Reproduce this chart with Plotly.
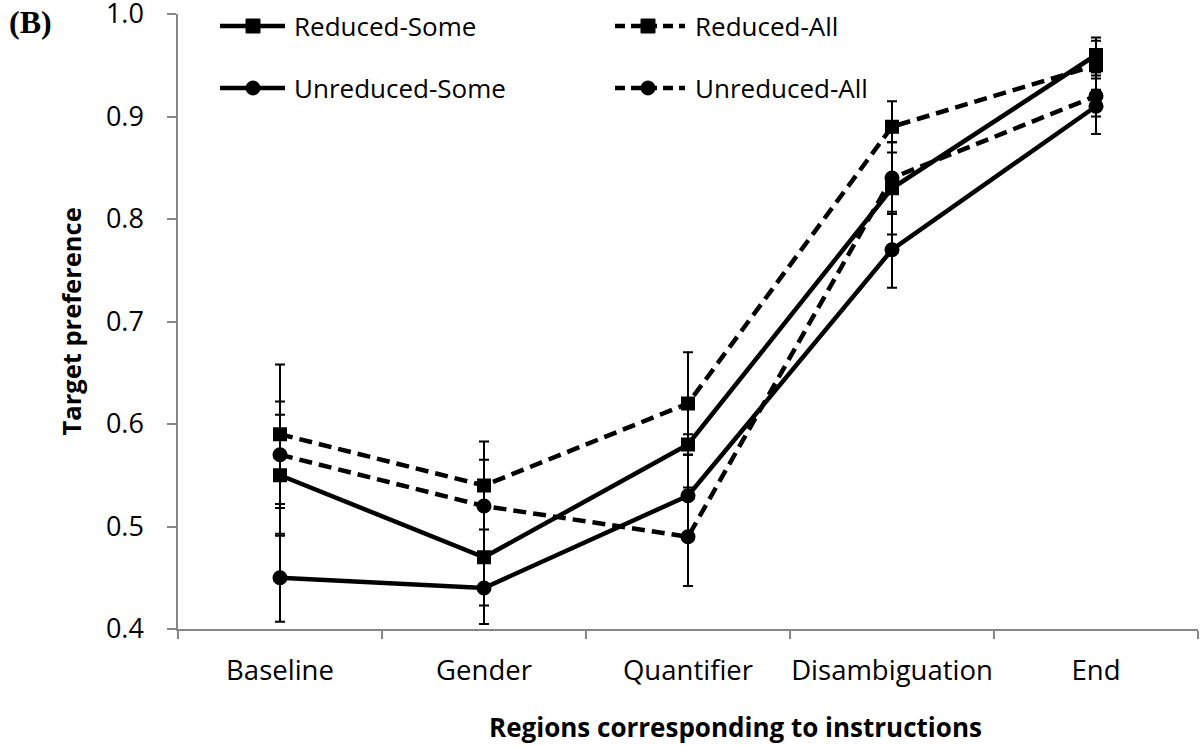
import plotly.graph_objects as go

categories = ["Baseline", "Gender", "Quantifier", "Disambiguation", "End"]

reduced_some = [0.55, 0.47, 0.58, 0.83, 0.96]
reduced_some_err = [0.059, 0.047, 0.010, 0.045, 0.017]
reduced_all = [0.59, 0.54, 0.62, 0.89, 0.95]
reduced_all_err = [0.068, 0.043, 0.050, 0.025, 0.024]
unreduced_some = [0.45, 0.44, 0.53, 0.77, 0.91]
unreduced_some_err = [0.043, 0.035, 0.040, 0.037, 0.027]
unreduced_all = [0.57, 0.52, 0.49, 0.84, 0.92]
unreduced_all_err = [0.052, 0.045, 0.048, 0.035, 0.020]

y_ticks = [0.4, 0.5, 0.6, 0.7, 0.8, 0.9, 1.0]
y_tick_labels = ["0.4", "0.5", "0.6", "0.7", "0.8", "0.9", "1.0"]

series = [
    ("Reduced-Some", reduced_some, reduced_some_err, "square", "solid"),
    ("Reduced-All", reduced_all, reduced_all_err, "square", "13px,7px"),
    ("Unreduced-Some", unreduced_some, unreduced_some_err, "circle", "solid"),
    ("Unreduced-All", unreduced_all, unreduced_all_err, "circle", "13px,7px"),
]

FONT = "Open Sans"
W, H = 1202, 746
PLOT_L, PLOT_R, PLOT_T, PLOT_B = 178, 1198, 14, 629
L, T, R, B = PLOT_L, PLOT_T, W - PLOT_R, H - PLOT_B
PW, PH = PLOT_R - PLOT_L, PLOT_B - PLOT_T

fig = go.Figure()
for name, vals, errs, sym, dash in series:
    fig.add_trace(go.Scatter(
        x=categories, y=vals, name=name, mode="lines+markers",
        line=dict(color="black", width=4.5, dash=dash),
        marker=dict(symbol=sym, size=14 if sym == "square" else 15, color="black"),
        error_y=dict(type="data", array=errs, visible=True, color="black",
                     thickness=2, width=5),
        showlegend=False,
    ))


def px(xp):
    return (xp - PLOT_L) / PW


def py(yp):
    return (PLOT_B - yp) / PH


shapes = []
annotations = []
legend_items = [
    ("Reduced-Some", "square", "solid", 220, 285, 253, 292, 26),
    ("Reduced-All", "square", "dash", 615, 685, 648, 693, 26),
    ("Unreduced-Some", "circle", "solid", 220, 285, 253, 292, 88),
    ("Unreduced-All", "circle", "dash", 615, 685, 648, 693, 88),
]
for name, sym, dash, x0, x1, xm, xt, yl in legend_items:
    shapes.append(dict(type="line", xref="paper", yref="paper",
                       x0=px(x0), x1=px(x1), y0=py(yl), y1=py(yl),
                       line=dict(color="black", width=4.5,
                                 dash="solid" if dash == "solid" else "10px,6px")))
    shapes.append(dict(type="rect" if sym == "square" else "circle",
                       xref="paper", yref="paper",
                       xsizemode="pixel", ysizemode="pixel",
                       xanchor=px(xm), yanchor=py(yl),
                       x0=-7, x1=7, y0=-7, y1=7,
                       fillcolor="black", line=dict(color="black", width=1)))
    annotations.append(dict(text=name, xref="paper", yref="paper",
                            x=px(xt), y=py(yl), xanchor="left", yanchor="middle",
                            showarrow=False, font=dict(family=FONT, size=26, color="black")))

annotations.append(dict(text="<b>Target preference</b>", xref="paper", yref="paper",
                        x=px(70), y=0.5, xanchor="center", yanchor="middle", textangle=-90,
                        showarrow=False, font=dict(family=FONT, size=25.5, color="black")))
annotations.append(dict(text="<b>Regions corresponding to instructions</b>", xref="paper",
                        yref="paper", x=px(487), y=py(727), xanchor="left", yanchor="middle",
                        showarrow=False, font=dict(family=FONT, size=26, color="black")))
annotations.append(dict(text="<b>(B)</b>", xref="paper", yref="paper",
                        x=px(30), y=py(22), xanchor="center", yanchor="middle",
                        showarrow=False,
                        font=dict(family="Liberation Serif", size=32, color="black")))

fig.update_layout(
    width=W, height=H,
    margin=dict(l=L, r=R, t=T, b=B, pad=0, autoexpand=False),
    paper_bgcolor="white", plot_bgcolor="white",
    font=dict(family=FONT, size=26, color="black"),
    shapes=shapes, annotations=annotations,
    xaxis=dict(type="category", range=[-0.5, 4.5], tickson="boundaries",
               ticks="outside", ticklen=8, tickwidth=1.5, tickcolor="#868686",
               showline=True, linecolor="#868686", linewidth=1.5,
               showgrid=False, zeroline=False, ticklabelstandoff=16,
               tickangle=0, automargin=False, ticklabeloverflow="allow",
               tickfont=dict(family=FONT, size=27.5, color="black")),
    yaxis=dict(range=[0.4, 1.0], tickvals=y_ticks, ticktext=y_tick_labels,
               ticks="outside", ticklen=9, tickwidth=1.5, tickcolor="#868686",
               showline=True, linecolor="#868686", linewidth=1.5,
               showgrid=False, zeroline=False, ticklabelstandoff=18,
               automargin=False, ticklabeloverflow="allow",
               tickfont=dict(family=FONT, size=27, color="black")),
)

fig.write_html("out.html", config={"displayModeBar": False},
               post_script="document.body.style.margin='0';document.body.style.padding='0';")
